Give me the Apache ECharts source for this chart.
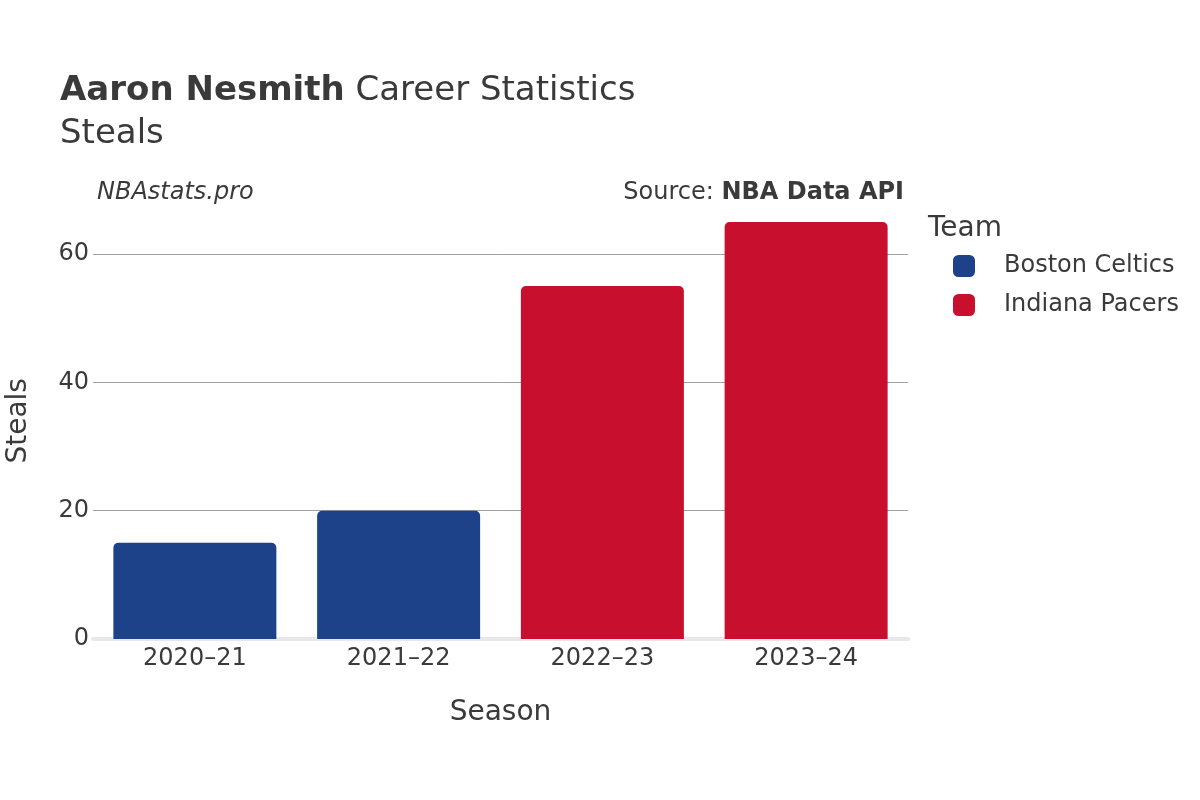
<!DOCTYPE html>
<html><head><meta charset="utf-8">
<script src="https://cdn.jsdelivr.net/npm/echarts@6/dist/echarts.min.js"></script>
<style>html,body{margin:0;padding:0;background:#fff}#c{width:1200px;height:800px}</style>
</head><body><div id="c"></div>
<script>
const seasons = ['2020–21', '2021–22', '2022–23', '2023–24'];
const celtics = [15, 20, null, null];
const pacers = [null, null, 55, 65];
const yTicks = [0, 20, 40, 60];

const F = 'DejaVu Sans';
const chart = echarts.init(document.getElementById('c'));
chart.setOption({
  animation: false,
  textStyle: { fontFamily: F },
  title: [
    { text: '{b|Aaron Nesmith} Career Statistics', left: 55, top: 69,
      textStyle: { fontFamily: F, fontSize: 34, fontWeight: 'normal', color: '#3a3a3a',
        rich: { b: { fontFamily: F, fontSize: 34, fontWeight: 'bold', color: '#3a3a3a' } } } },
    { text: 'Steals', left: 55, top: 112,
      textStyle: { fontFamily: F, fontSize: 34, fontWeight: 'normal', color: '#3a3a3a' } },
    { text: 'NBAstats.pro', left: 92, top: 176,
      textStyle: { fontFamily: F, fontSize: 24, fontStyle: 'italic', fontWeight: 'normal', color: '#3a3a3a' } },
    { text: 'Source: {b|NBA Data API}', right: 291, top: 176,
      textStyle: { fontFamily: F, fontSize: 24, fontWeight: 'normal', color: '#3a3a3a',
        rich: { b: { fontFamily: F, fontSize: 24, fontWeight: 'bold', color: '#3a3a3a' } } } },
    { text: 'Team', left: 923, top: 210,
      textStyle: { fontFamily: F, fontSize: 28, fontWeight: 'normal', color: '#3a3a3a' } }
  ],
  legend: {
    left: 948, top: 249, orient: 'vertical', itemGap: 15,
    itemWidth: 22, itemHeight: 22, icon: 'roundRect',
    textStyle: { fontFamily: F, fontSize: 24, color: '#3a3a3a', padding: [0, 0, 0, 24] },
    data: ['Boston Celtics', 'Indiana Pacers']
  },
  grid: { left: 93, right: 292, top: 202.7, bottom: 161, containLabel: false, outerBoundsMode: 'none' },
  xAxis: {
    type: 'category', data: seasons,
    name: 'Season', nameLocation: 'middle', nameGap: 60,
    nameTextStyle: { fontFamily: F, fontSize: 28, color: '#3a3a3a' },
    axisLine: { show: true, lineStyle: { color: '#e8e8ec', width: 4 } },
    axisTick: { show: false },
    axisLabel: { fontFamily: F, fontSize: 24, color: '#3a3a3a', margin: 8 }
  },
  yAxis: {
    type: 'value', min: 0, max: 68, interval: 20,
    name: 'Steals', nameLocation: 'middle', nameGap: 60, nameRotate: 90,
    nameTextStyle: { fontFamily: F, fontSize: 28, color: '#3a3a3a' },
    axisLine: { show: false }, axisTick: { show: false },
    axisLabel: { fontFamily: F, fontSize: 24, color: '#3a3a3a', margin: 4, showMaxLabel: false,
      padding: [4, 0, 0, 0],
      formatter: v => yTicks.includes(v) ? String(v) : '' },
    splitLine: { show: true, showMinLine: false, showMaxLine: false, lineStyle: { color: '#a0a0a0', width: 1 } }
  },
  series: [
    { name: 'Boston Celtics', type: 'bar', stack: 't', data: celtics, barCategoryGap: '20%',
      itemStyle: { color: '#1d428a', borderRadius: [5, 5, 0, 0] } },
    { name: 'Indiana Pacers', type: 'bar', stack: 't', data: pacers, barCategoryGap: '20%',
      itemStyle: { color: '#c8102e', borderRadius: [5, 5, 0, 0] } }
  ]
});
</script></body></html>
